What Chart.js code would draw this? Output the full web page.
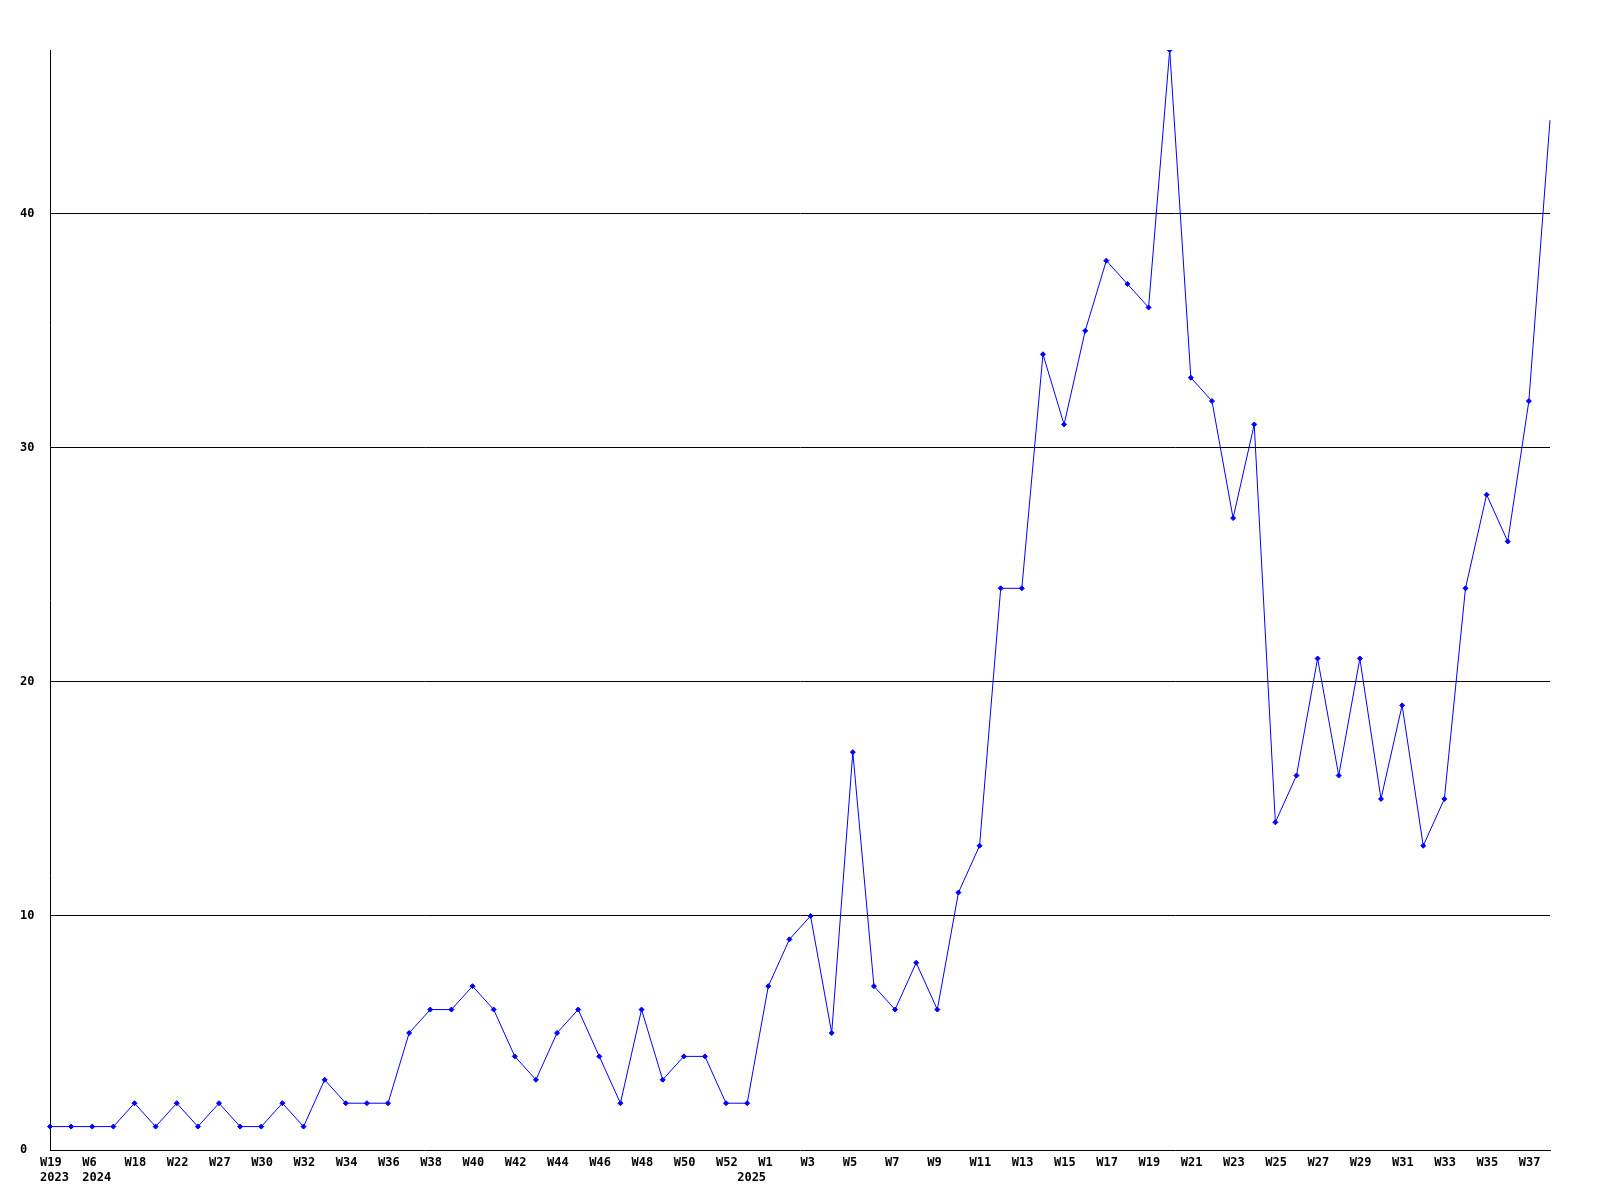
<!DOCTYPE html>
<html>
<head>
<meta charset="utf-8">
<script src="https://cdn.jsdelivr.net/npm/chart.js@4/dist/chart.umd.min.js"></script>
<style>
  body { margin: 0; background: #fff; }
</style>
</head>
<body>
<canvas id="weeklyChart" width="1600" height="1200"></canvas>
<script>
// week labels (only every other one is printed), year shown where it changes
const weeks = ['W19', 'W44', 'W6', 'W12', 'W18', 'W20', 'W22', 'W25', 'W27', 'W29',
  'W30', 'W31', 'W32', 'W33', 'W34', 'W35', 'W36', 'W37', 'W38', 'W39',
  'W40', 'W41', 'W42', 'W43', 'W44', 'W45', 'W46', 'W47', 'W48', 'W49',
  'W50', 'W51', 'W52', 'W0', 'W1', 'W2', 'W3', 'W4', 'W5', 'W6',
  'W7', 'W8', 'W9', 'W10', 'W11', 'W12', 'W13', 'W14', 'W15', 'W16',
  'W17', 'W18', 'W19', 'W20', 'W21', 'W22', 'W23', 'W24', 'W25', 'W26',
  'W27', 'W28', 'W29', 'W30', 'W31', 'W32', 'W33', 'W34', 'W35', 'W36',
  'W37', 'W38'];
const years = [2023, 2023, 2024, 2024, 2024, 2024, 2024, 2024, 2024, 2024,
  2024, 2024, 2024, 2024, 2024, 2024, 2024, 2024, 2024, 2024,
  2024, 2024, 2024, 2024, 2024, 2024, 2024, 2024, 2024, 2024,
  2024, 2024, 2024, 2025, 2025, 2025, 2025, 2025, 2025, 2025,
  2025, 2025, 2025, 2025, 2025, 2025, 2025, 2025, 2025, 2025,
  2025, 2025, 2025, 2025, 2025, 2025, 2025, 2025, 2025, 2025,
  2025, 2025, 2025, 2025, 2025, 2025, 2025, 2025, 2025, 2025,
  2025, 2025];
const counts = [1, 1, 1, 1, 2, 1, 2, 1, 2, 1,
  1, 2, 1, 3, 2, 2, 2, 5, 6, 6,
  7, 6, 4, 3, 5, 6, 4, 2, 6, 3,
  4, 4, 2, 2, 7, 9, 10, 5, 17, 7,
  6, 8, 6, 11, 13, 24, 24, 34, 31, 35,
  38, 37, 36, 47, 33, 32, 27, 31, 14, 16,
  21, 16, 21, 15, 19, 13, 15, 24, 28, 26,
  32, 44];
const yTicks = [10, 20, 30, 40];

const axisFont = { family: 'DejaVu Sans Mono', weight: 'bold', size: 12, lineHeight: 1.25 };

function weekLabel(index) {
  const w = index % 2 === 0 ? weeks[index] : '';
  const newYear = index === 0 || years[index] !== years[index - 1];
  return newYear ? [w, String(years[index])] : w;
}

const ctx = document.getElementById('weeklyChart').getContext('2d');
new Chart(ctx, {
  type: 'line',
  data: {
    labels: weeks.map((w, i) => w + ' ' + years[i]),
    datasets: [{
      data: counts,
      borderColor: '#0000ff',
      backgroundColor: '#0000ff',
      borderWidth: 1,
      pointStyle: 'rectRot',
      // the last marker sits on the plot edge and isn't drawn in the original
      pointRadius: c => c.dataIndex === counts.length - 1 ? 0 : 2.5,
      pointBorderWidth: 1,
      tension: 0,
      fill: false
    }]
  },
  options: {
    responsive: false,
    animation: false,
    layout: { padding: { left: 20, right: 50, top: 50, bottom: 0 } },
    plugins: {
      legend: { display: false },
      tooltip: { enabled: false }
    },
    scales: {
      x: {
        type: 'category',
        offset: false,
        grid: { display: false, drawTicks: false },
        border: { display: true, color: '#000', width: 1 },
        ticks: {
          autoSkip: false,
          maxRotation: 0,
          minRotation: 0,
          align: 'start',
          labelOffset: -10,
          padding: 5,
          color: '#000',
          font: axisFont,
          callback: (value, index) => weekLabel(index)
        },
        afterFit: scale => { scale.height = 50; }
      },
      y: {
        min: 0,
        max: 47,
        grid: {
          drawTicks: false,
          color: c => yTicks.includes(c.tick.value) ? '#000' : 'rgba(0,0,0,0)',
          lineWidth: 1
        },
        border: { display: true, color: '#000', width: 1 },
        ticks: {
          stepSize: 10,
          includeBounds: false,
          crossAlign: 'far',
          padding: 4,
          color: '#000',
          font: axisFont
        },
        afterFit: scale => { scale.width = 30; }
      }
    }
  }
});
</script>
</body>
</html>
